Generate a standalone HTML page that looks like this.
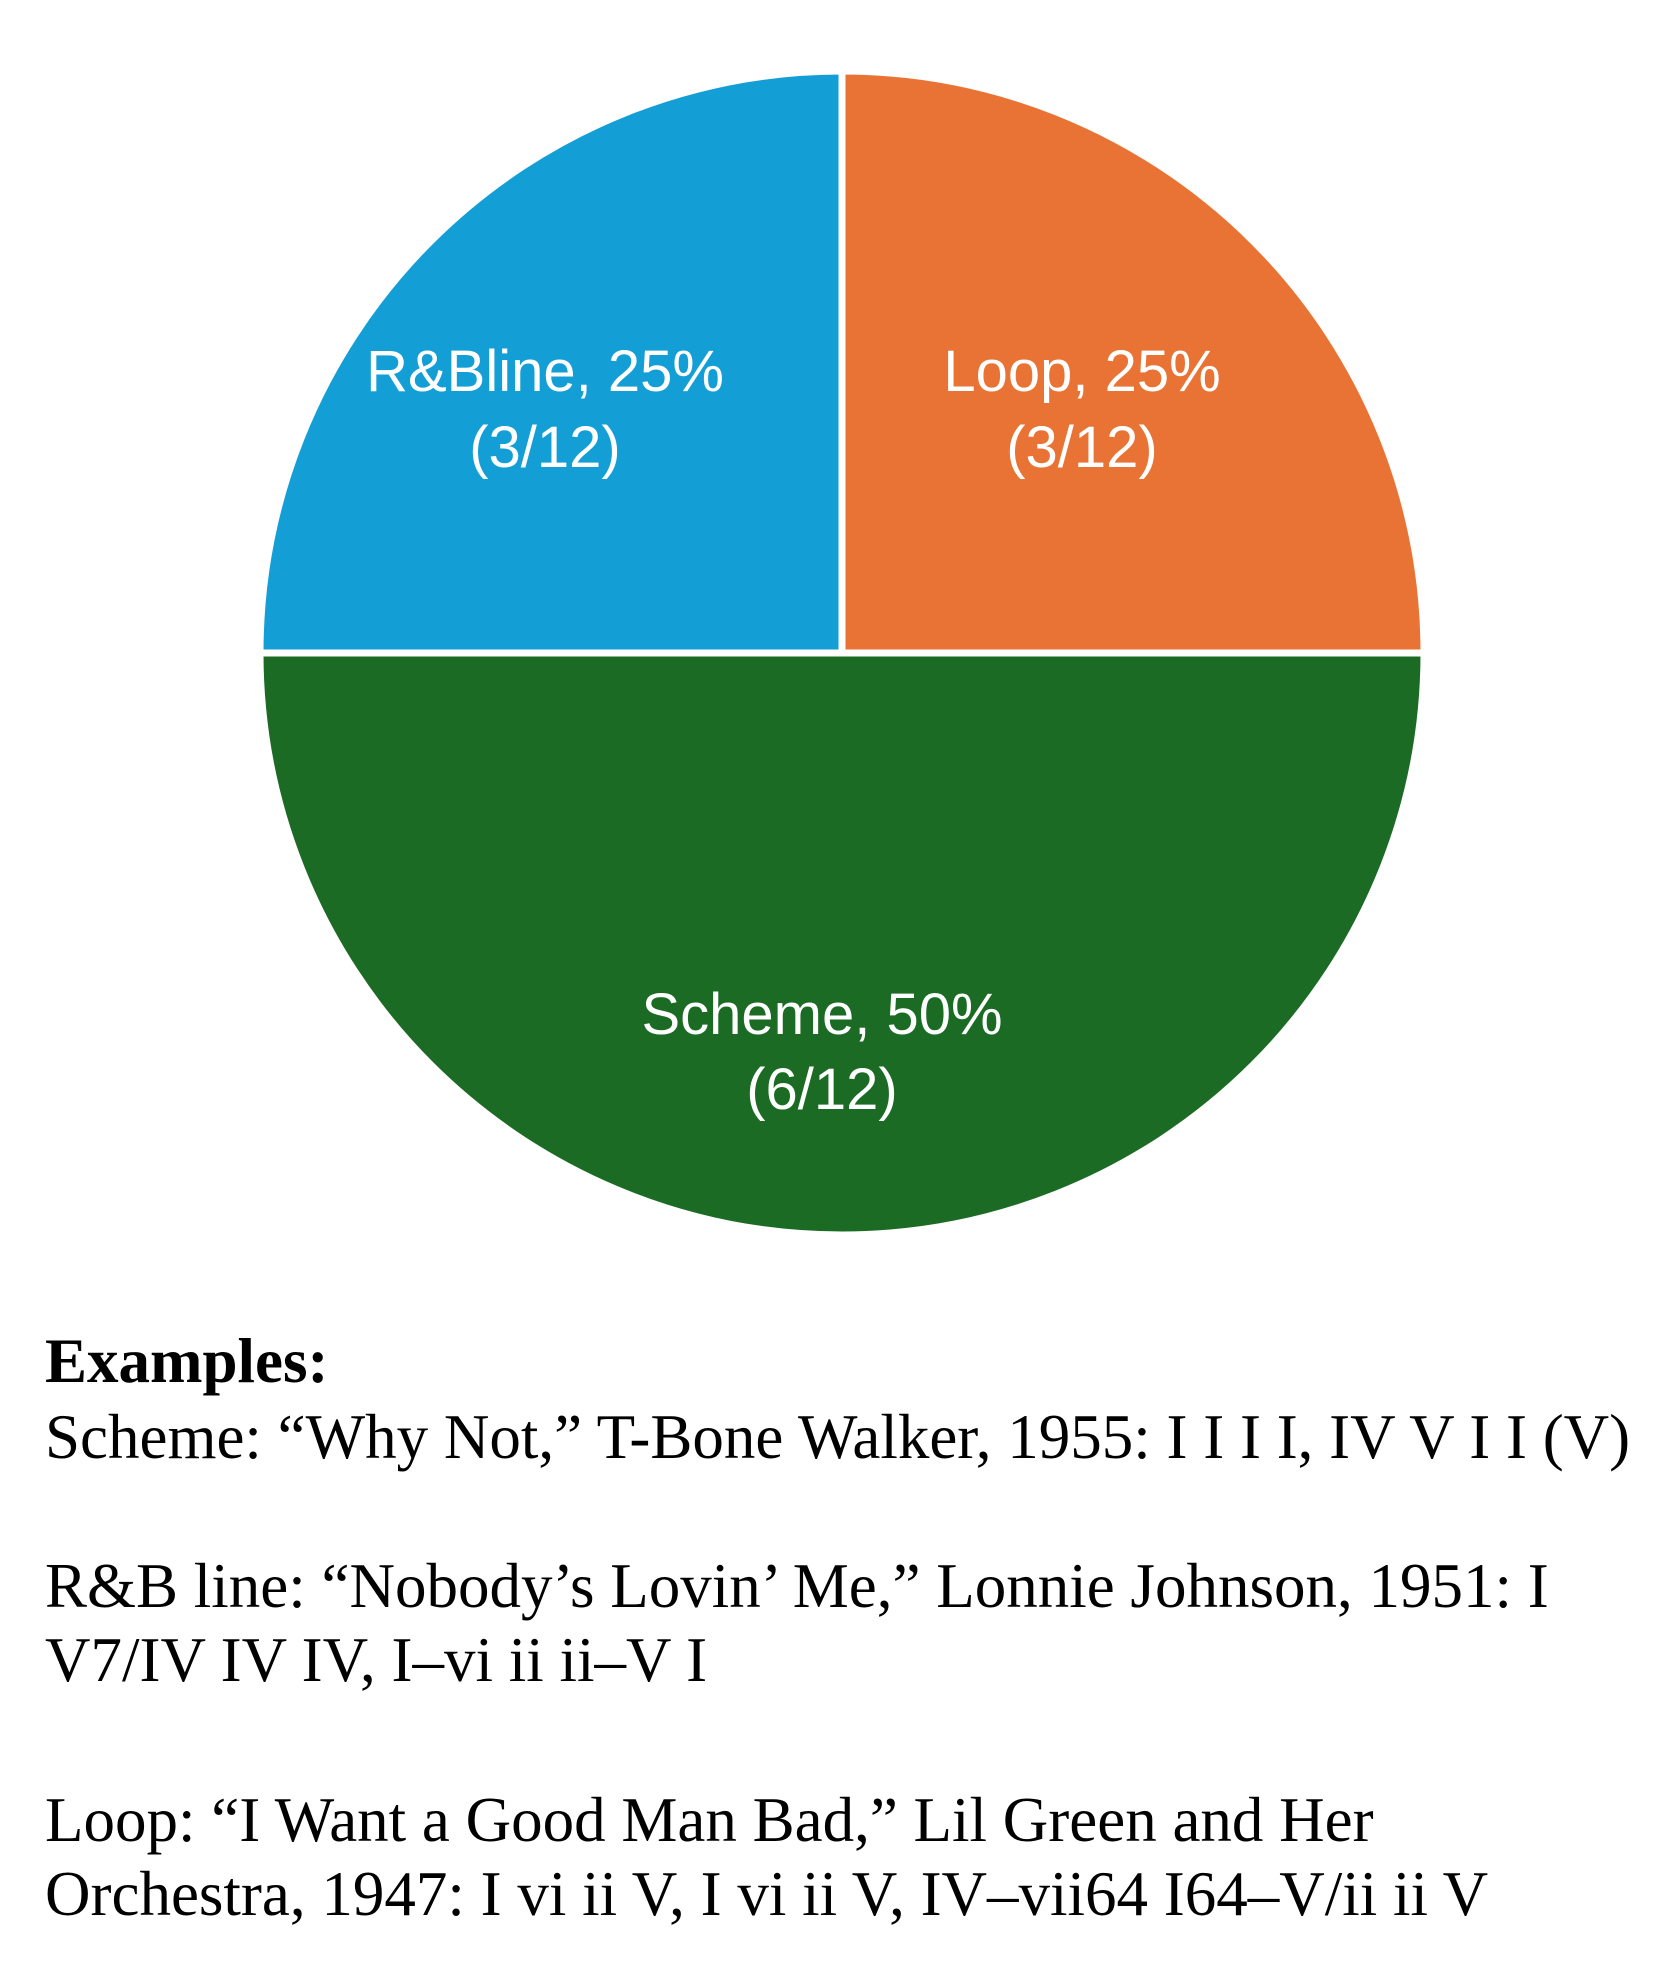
<!DOCTYPE html>
<html><head><style>
html,body{margin:0;padding:0;background:#fff;}
svg{display:block;}
</style></head><body>
<svg width="1670" height="1985" xmlns="http://www.w3.org/2000/svg">
<g stroke="#fff" stroke-width="7">
<path d="M842,653 L842,71 A582,582 0 0 1 1424,653 Z" fill="#E97334"/>
<path d="M842,653 L260,653 A582,582 0 0 1 842,71 Z" fill="#139FD6"/>
<path d="M842,653 L1424,653 A582,582 0 0 1 260,653 Z" fill="#1B6B25"/>
</g>
<g font-family="'Liberation Sans',sans-serif" font-size="58" fill="#fff" text-anchor="middle">
<text x="545" y="391">R&amp;Bline, 25%</text>
<text x="545" y="467">(3/12)</text>
<text x="1082" y="391">Loop, 25%</text>
<text x="1082" y="467">(3/12)</text>
<text x="822" y="1034">Scheme, 50%</text>
<text x="822" y="1109">(6/12)</text>
</g>
<g font-family="'Liberation Serif',serif" font-size="63" fill="#000">
<text x="45" y="1382" font-weight="bold">Examples:</text>
<text x="45" y="1458">Scheme: “Why Not,” T-Bone Walker, 1955: I I I I, IV V I I (V)</text>
<text x="45" y="1607">R&amp;B line: “Nobody’s Lovin’ Me,” Lonnie Johnson, 1951: I</text>
<text x="45" y="1681">V7/IV IV IV, I–vi ii ii–V I</text>
<text x="45" y="1841">Loop: “I Want a Good Man Bad,” Lil Green and Her</text>
<text x="45" y="1915">Orchestra, 1947: I vi ii V, I vi ii V, IV–vii64 I64–V/ii ii V</text>
</g>
</svg>
</body></html>
